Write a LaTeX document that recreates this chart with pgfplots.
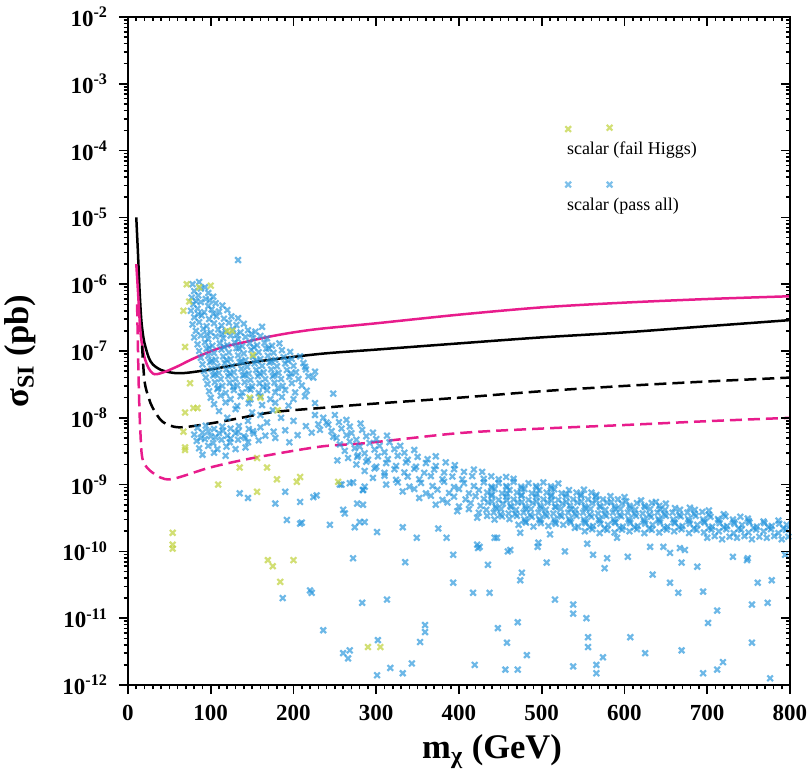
\documentclass[border=0pt]{standalone}
\usepackage{fontspec}
\setmainfont{Liberation Serif}
\usepackage{pgfplots}
\pgfplotsset{compat=1.18}
\definecolor{ptblue}{RGB}{40,150,220}
\definecolor{ptyellow}{RGB}{195,212,70}
\definecolor{lmag}{RGB}{232,28,140}

\begin{document}
\begin{tikzpicture}
\begin{axis}[scale only axis, width=331pt, height=334pt,
  xmin=0, xmax=800, ymin=1e-12, ymax=1e-2, ymode=log,
  xtick={0,100,...,800}, xticklabels={0,100,200,300,400,500,600,700,800},
  minor x tick num=9,
  ytick={1e-12,1e-11,1e-10,1e-9,1e-8,1e-7,1e-6,1e-5,1e-4,1e-3,1e-2},
  yticklabels={10\textsuperscript{-12},10\textsuperscript{-11},10\textsuperscript{-10},10\textsuperscript{-9},10\textsuperscript{-8},10\textsuperscript{-7},10\textsuperscript{-6},10\textsuperscript{-5},10\textsuperscript{-4},10\textsuperscript{-3},10\textsuperscript{-2}},
  xtick pos=left, ytick pos=left, tick align=outside,
  major tick length=4.5pt, minor tick length=2.2pt,
  axis line style={line width=1pt}, tick style={line width=0.8pt, black},
  tick label style={font=\fontsize{11.5}{13}\selectfont\bfseries},
  yticklabel style={xshift=-2pt}, xticklabel style={yshift=-2pt},
  xlabel={\LARGE\bfseries m\textsubscript{χ} (GeV)},
  ylabel={\LARGE\bfseries σ\textsubscript{SI} (pb)},
  xlabel style={at={(ticklabel cs:0.55)}, anchor=near ticklabel},
  ylabel style={yshift=6.5pt},
  clip=false]
\coordinate (sw) at (rel axis cs:0,0);

% scalar (pass all)
\addplot[only marks, mark=x, mark size=2pt, color=ptblue, mark options={line width=1.1pt, opacity=0.68}] coordinates {
(78,1e-6) (86,1.08e-6) (93,9e-7) (133,2.3e-6)
(80,7.9e-7) (88,8.6e-7) (97,7.4e-7)
(77,6.3e-7) (85,6.8e-7) (94,6e-7) (103,6.5e-7) (82,5.6e-7) (99,5.7e-7)
(79,5e-7) (88,5.4e-7) (97,4.7e-7) (106,5.2e-7) (114,4.8e-7)
(76,4e-7) (84,4.3e-7) (92,3.8e-7) (101,4.2e-7) (110,3.9e-7) (120,4.1e-7) (85,3.55e-7) (103,3.6e-7)
(80,3.2e-7) (89,3.4e-7) (98,3e-7) (107,3.3e-7) (116,3.05e-7) (125,3.3e-7) (133,3.1e-7)
(78,2.5e-7) (86,2.7e-7) (95,2.35e-7) (104,2.6e-7) (113,2.4e-7) (122,2.65e-7) (131,2.45e-7) (140,2.55e-7) (162,2.3e-7)
(82,2e-7) (91,2.15e-7) (100,1.9e-7) (109,2.1e-7) (118,1.95e-7) (127,2.1e-7) (136,1.9e-7) (145,2.05e-7) (154,1.95e-7)
(95,1.78e-7) (113,1.8e-7) (131,1.75e-7) (149,1.8e-7)
(80,1.6e-7) (88,1.7e-7) (97,1.5e-7) (106,1.65e-7) (115,1.55e-7) (124,1.7e-7) (133,1.5e-7) (142,1.62e-7) (151,1.55e-7) (160,1.68e-7) (168,1.55e-7)
(84,1.26e-7) (93,1.35e-7) (102,1.2e-7) (111,1.3e-7) (120,1.22e-7) (129,1.34e-7) (138,1.18e-7) (147,1.3e-7) (156,1.22e-7) (165,1.32e-7) (174,1.2e-7) (183,1.3e-7)
(98,1.12e-7) (116,1.15e-7) (134,1.1e-7) (152,1.14e-7) (170,1.1e-7)
(86,1e-7) (95,1.08e-7) (104,9.3e-8) (113,1.05e-7) (122,9.5e-8) (131,1.1e-7) (140,9.2e-8) (149,1.04e-7) (158,9.6e-8) (167,1.08e-7) (176,9.4e-8) (186,1.03e-7) (196,9.7e-8)
(88,7.9e-8) (97,8.5e-8) (106,7.4e-8) (115,8.3e-8) (124,7.6e-8) (133,8.6e-8) (142,7.3e-8) (151,8.2e-8) (160,7.6e-8) (169,8.5e-8) (178,7.4e-8) (188,8.1e-8) (198,7.6e-8) (208,8.3e-8)
(101,7.1e-8) (119,7.3e-8) (137,7e-8) (155,7.2e-8) (173,7e-8) (193,7.2e-8)
(90,6.3e-8) (99,6.8e-8) (108,5.9e-8) (117,6.6e-8) (126,6e-8) (135,6.8e-8) (144,5.8e-8) (153,6.5e-8) (162,6e-8) (171,6.7e-8) (180,5.9e-8) (190,6.5e-8) (200,6e-8) (212,6.6e-8) (214,5.8e-8)
(92,5e-8) (101,5.4e-8) (110,4.7e-8) (119,5.3e-8) (128,4.8e-8) (137,5.4e-8) (146,4.6e-8) (155,5.2e-8) (164,4.8e-8) (173,5.3e-8) (182,4.7e-8) (192,5.2e-8) (203,4.8e-8) (215,5.3e-8) (226,4.9e-8)
(105,4.5e-8) (123,4.6e-8) (141,4.4e-8) (159,4.6e-8) (177,4.4e-8) (197,4.6e-8)
(94,4e-8) (103,4.3e-8) (112,3.8e-8) (121,4.2e-8) (130,3.8e-8) (139,4.3e-8) (148,3.7e-8) (157,4.2e-8) (166,3.8e-8) (175,4.2e-8) (185,3.8e-8) (195,4.1e-8) (206,3.8e-8) (218,4.2e-8) (224,4e-8)
(96,3.2e-8) (105,3.4e-8) (114,3e-8) (123,3.35e-8) (132,3.05e-8) (141,3.4e-8) (150,2.95e-8) (159,3.3e-8) (168,3.05e-8) (177,3.35e-8) (187,3e-8) (198,3.3e-8) (210,3.05e-8)
(109,2.8e-8) (127,2.9e-8) (145,2.75e-8) (163,2.9e-8) (181,2.8e-8)
(98,2.5e-8) (108,2.7e-8) (118,2.35e-8) (128,2.6e-8) (138,2.4e-8) (148,2.65e-8) (158,2.35e-8) (168,2.6e-8) (178,2.4e-8) (190,2.6e-8) (202,2.4e-8) (216,2.55e-8) (248,2.3e-8)
(100,2e-8) (112,2.15e-8) (124,1.9e-8) (136,2.1e-8) (148,1.9e-8) (160,2.1e-8) (172,1.9e-8) (186,2.05e-8) (200,1.9e-8) (214,2.1e-8)
(104,1.6e-8) (118,1.7e-8) (132,1.5e-8) (146,1.65e-8) (162,1.55e-8) (178,1.68e-8) (194,1.52e-8) (226,1.66e-8)
(110,1.26e-8) (130,1.35e-8) (150,1.2e-8) (175,1.3e-8) (226,1.1e-8)
(84,7.1e-9) (94,7.6e-9) (104,6.8e-9) (114,7.4e-9) (124,6.9e-9) (134,7.5e-9) (146,6.8e-9) (160,7.2e-9)
(97,6.3e-9) (115,6.4e-9) (133,6.2e-9) (151,6.3e-9)
(80,5.6e-9) (90,6e-9) (100,5.3e-9) (110,5.9e-9) (120,5.4e-9) (130,5.9e-9) (140,5.3e-9) (152,5.8e-9) (166,5.4e-9)
(88,5e-9) (106,5.1e-9) (124,4.9e-9) (142,5e-9)
(83,4.5e-9) (93,4.8e-9) (103,4.2e-9) (113,4.7e-9) (123,4.3e-9) (133,4.7e-9) (145,4.3e-9) (158,4.6e-9)
(86,3.5e-9) (97,3.8e-9) (108,3.4e-9) (119,3.7e-9) (130,3.4e-9) (142,3.6e-9)
(90,2.8e-9) (104,3e-9) (118,2.7e-9)
(120,1e-8) (145,9e-9) (168,8.5e-9) (185,1e-8) (200,9e-9) (215,7.5e-9) (230,8e-9) (160,1.1e-8) (190,6.5e-9) (205,5.5e-9) (178,5e-9) (222,6e-9) (240,8.5e-9) (248,5.2e-9) (176,6.2e-9) (195,4.3e-9) (232,6.6e-9)
(236,1e-8) (250,1.1e-8) (264,9.3e-9)
(242,7.9e-9) (255,8.6e-9) (268,7.4e-9) (281,8.2e-9)
(246,6.3e-9) (258,6.9e-9) (270,5.9e-9) (283,6.6e-9) (296,6e-9)
(252,5e-9) (264,5.5e-9) (276,4.7e-9) (288,5.3e-9) (300,4.8e-9) (313,5.4e-9)
(256,4e-9) (268,4.4e-9) (280,3.7e-9) (292,4.2e-9) (304,3.8e-9) (316,4.3e-9) (329,3.8e-9)
(262,3.2e-9) (274,3.5e-9) (286,2.95e-9) (298,3.35e-9) (310,3.05e-9) (322,3.4e-9) (334,3e-9) (346,3.3e-9)
(266,2.5e-9) (278,2.75e-9) (290,2.35e-9) (302,2.65e-9) (314,2.4e-9) (326,2.7e-9) (338,2.35e-9) (350,2.6e-9) (362,2.4e-9) (372,2.65e-9)
(276,2e-9) (288,2.2e-9) (300,1.85e-9) (312,2.1e-9) (324,1.9e-9) (336,2.15e-9) (348,1.85e-9) (360,2.1e-9) (372,1.9e-9) (384,2.15e-9) (395,1.95e-9)
(286,1.6e-9) (298,1.75e-9) (310,1.5e-9) (322,1.7e-9) (334,1.52e-9) (346,1.72e-9) (358,1.5e-9) (370,1.68e-9) (382,1.52e-9) (394,1.7e-9) (406,1.55e-9) (418,1.68e-9) (428,1.55e-9)
(296,1.26e-9) (310,1.36e-9) (324,1.18e-9) (338,1.32e-9) (352,1.2e-9) (366,1.34e-9) (380,1.2e-9) (392,1.32e-9) (404,1.2e-9) (416,1.34e-9) (430,1.22e-9) (439,1.33e-9) (448,1.2e-9) (457,1.3e-9) (466,1.22e-9)
(258,1e-9) (272,1.08e-9) (286,9.3e-10) (312,1e-9) (326,1.08e-9) (340,9.3e-10) (354,1.06e-9) (368,9.5e-10) (382,1.1e-9) (394,9.2e-10) (406,1.05e-9) (418,9.5e-10) (430,1.08e-9) (439,9.3e-10) (448,1.06e-9) (457,9.5e-10) (466,1.1e-9) (475,9.3e-10) (484,1.05e-9) (493,9.5e-10) (502,1.08e-9) (511,9.4e-10) (520,1.04e-9)
(440,8.9e-10) (458,9.1e-10) (476,8.7e-10) (494,9e-10) (512,8.8e-10)
(284,8.3e-10) (332,7.9e-10) (346,8.6e-10) (360,7.4e-10) (374,8.4e-10) (388,7.5e-10) (400,8.6e-10) (412,7.4e-10) (424,8.3e-10) (434,7.6e-10) (443,8.6e-10) (452,7.4e-10) (461,8.3e-10) (470,7.6e-10) (479,8.6e-10) (488,7.4e-10) (497,8.3e-10) (506,7.6e-10) (515,8.5e-10) (524,7.4e-10) (533,8.3e-10) (542,7.6e-10) (551,8.4e-10) (560,7.6e-10)
(440,7.1e-10) (458,7.3e-10) (476,7e-10) (494,7.2e-10) (512,7e-10) (530,7.2e-10) (548,7.1e-10) (566,7e-10)
(352,6.3e-10) (366,6.8e-10) (380,5.9e-10) (394,6.6e-10) (408,6e-10) (420,6.7e-10) (430,6.1e-10) (439,6.8e-10) (448,5.9e-10) (457,6.6e-10) (466,6e-10) (475,6.8e-10) (484,5.9e-10) (493,6.6e-10) (502,6e-10) (511,6.7e-10) (520,5.9e-10) (529,6.6e-10) (538,6e-10) (547,6.8e-10) (556,6e-10) (565,6.6e-10) (574,6e-10) (583,6.7e-10) (592,6e-10) (600,6.5e-10)
(440,5.6e-10) (458,5.8e-10) (476,5.5e-10) (494,5.6e-10) (512,5.8e-10) (530,5.5e-10) (548,5.6e-10) (566,5.8e-10) (584,5.5e-10) (602,5.6e-10) (620,5.8e-10) (638,5.5e-10)
(372,5e-10) (386,5.4e-10) (400,4.7e-10) (414,5.3e-10) (426,4.8e-10) (435,5.4e-10) (444,4.7e-10) (453,5.2e-10) (462,4.8e-10) (471,5.4e-10) (480,4.7e-10) (489,5.3e-10) (498,4.8e-10) (507,5.4e-10) (516,4.7e-10) (525,5.2e-10) (534,4.8e-10) (543,5.4e-10) (552,4.7e-10) (561,5.3e-10) (570,4.8e-10) (579,5.4e-10) (588,4.7e-10) (597,5.2e-10) (606,4.8e-10) (615,5.3e-10) (624,4.8e-10) (633,5.3e-10) (642,4.8e-10) (650,5.2e-10)
(445,4.45e-10) (463,4.6e-10) (481,4.35e-10) (499,4.5e-10) (517,4.6e-10) (535,4.35e-10) (553,4.45e-10) (571,4.6e-10) (589,4.35e-10) (607,4.5e-10) (625,4.6e-10) (643,4.35e-10) (661,4.45e-10) (679,4.5e-10)
(398,4e-10) (412,4.3e-10) (424,3.8e-10) (433,4.2e-10) (442,3.8e-10) (451,4.3e-10) (460,3.7e-10) (469,4.2e-10) (478,3.8e-10) (487,4.3e-10) (496,3.8e-10) (505,4.2e-10) (514,3.7e-10) (523,4.3e-10) (532,3.8e-10) (541,4.2e-10) (550,3.8e-10) (559,4.3e-10) (568,3.7e-10) (577,4.2e-10) (586,3.8e-10) (595,4.3e-10) (604,3.8e-10) (613,4.2e-10) (622,3.7e-10) (631,4.3e-10) (640,3.8e-10) (649,4.2e-10) (658,3.8e-10) (667,4.2e-10) (676,3.8e-10) (685,4.2e-10) (694,3.9e-10) (702,4.1e-10)
(450,3.55e-10) (468,3.65e-10) (486,3.5e-10) (504,3.6e-10) (522,3.5e-10) (540,3.65e-10) (558,3.55e-10) (576,3.6e-10) (594,3.5e-10) (612,3.65e-10) (630,3.55e-10) (648,3.6e-10) (666,3.5e-10) (684,3.65e-10) (702,3.55e-10) (720,3.6e-10)
(422,3.2e-10) (434,3.4e-10) (443,3e-10) (452,3.35e-10) (461,3.05e-10) (470,3.4e-10) (479,3e-10) (488,3.3e-10) (497,3.05e-10) (506,3.4e-10) (515,3e-10) (524,3.35e-10) (533,3.05e-10) (542,3.4e-10) (551,3e-10) (560,3.3e-10) (569,3.05e-10) (578,3.4e-10) (587,3e-10) (596,3.35e-10) (605,3.05e-10) (614,3.4e-10) (623,3e-10) (632,3.3e-10) (641,3.05e-10) (650,3.4e-10) (659,3e-10) (668,3.35e-10) (677,3.05e-10) (686,3.4e-10) (695,3e-10) (704,3.3e-10) (713,3.05e-10) (722,3.35e-10) (731,3e-10) (740,3.3e-10) (749,3.1e-10)
(480,2.8e-10) (498,2.9e-10) (516,2.75e-10) (534,2.85e-10) (552,2.8e-10) (570,2.9e-10) (588,2.75e-10) (606,2.85e-10) (624,2.8e-10) (642,2.9e-10) (660,2.75e-10) (678,2.85e-10) (696,2.8e-10) (714,2.9e-10) (732,2.75e-10) (750,2.85e-10) (768,2.8e-10) (786,2.9e-10)
(472,2.5e-10) (481,2.7e-10) (490,2.35e-10) (499,2.65e-10) (508,2.4e-10) (517,2.6e-10) (526,2.5e-10) (535,2.7e-10) (544,2.35e-10) (553,2.65e-10) (562,2.4e-10) (571,2.6e-10) (580,2.5e-10) (589,2.7e-10) (598,2.35e-10) (607,2.65e-10) (616,2.4e-10) (625,2.6e-10) (634,2.5e-10) (643,2.7e-10) (652,2.35e-10) (661,2.65e-10) (670,2.4e-10) (679,2.6e-10) (688,2.5e-10) (697,2.7e-10) (706,2.35e-10) (715,2.65e-10) (724,2.4e-10) (733,2.6e-10) (742,2.5e-10) (751,2.7e-10) (760,2.35e-10) (769,2.65e-10) (778,2.4e-10) (787,2.6e-10) (796,2.5e-10)
(540,2.25e-10) (558,2.3e-10) (576,2.2e-10) (594,2.25e-10) (612,2.3e-10) (630,2.2e-10) (648,2.25e-10) (666,2.3e-10) (684,2.2e-10) (702,2.25e-10) (720,2.3e-10) (738,2.2e-10) (756,2.25e-10) (774,2.3e-10) (792,2.2e-10)
(552,2e-10) (561,2.15e-10) (570,1.88e-10) (579,2.1e-10) (588,1.92e-10) (597,2.12e-10) (606,2e-10) (615,2.15e-10) (624,1.88e-10) (633,2.1e-10) (642,1.92e-10) (651,2.12e-10) (660,2e-10) (669,2.15e-10) (678,1.88e-10) (687,2.1e-10) (696,1.92e-10) (705,2.12e-10) (714,2e-10) (723,2.15e-10) (732,1.88e-10) (741,2.1e-10) (750,1.92e-10) (759,2.12e-10) (768,2e-10) (777,2.15e-10) (786,1.88e-10) (795,2.1e-10)
(700,1.6e-10) (709,1.7e-10) (718,1.52e-10) (727,1.66e-10) (736,1.6e-10) (745,1.7e-10) (754,1.52e-10) (763,1.66e-10) (772,1.6e-10) (781,1.7e-10) (790,1.52e-10) (798,1.66e-10)
(135,7.4e-10) (145,6.3e-10) (178,5.2e-10) (190,7.8e-10) (192,2.95e-10) (208,2.6e-10) (208,5.5e-10) (228,6.9e-10) (244,2.5e-10) (260,4.2e-10) (280,2.75e-10) (301,1.95e-10) (332,2.3e-10) (349,1.6e-10) (385,1.6e-10) (425,1.17e-10) (210,2.7e-10) (224,6.5e-10) (277,5.2e-10)
(274,2.3e-10) (375,2.2e-10) (422,1.26e-10) (446,1.6e-10) (474,1.9e-10) (496,1.35e-10) (262,3.7e-10) (286,2.75e-10) (284,5e-10) (268,1.05e-9) (256,1e-9) (284,8.3e-10) (253,2.3e-9) (277,2.6e-9)
(272,7.9e-11) (335,6.9e-11) (393,3.4e-11) (187,2e-11) (220,2.6e-11) (222,2.4e-11) (283,1.7e-11) (313,1.9e-11) (236,6.6e-12) (260,3e-12) (268,3.3e-12) (266,2.5e-12) (302,4.7e-12) (317,1.8e-12) (301,1.4e-12) (332,1.5e-12) (343,2.1e-12) (359,7.9e-12) (359,6.2e-12) (353,4.4e-12)
(393,8.9e-11) (423,1.12e-10) (459,1e-10) (495,1.17e-10) (528,1e-10) (562,8.9e-11) (579,7.9e-11) (604,8.3e-11) (631,1.17e-10) (655,9.5e-11) (673,1.05e-10) (731,8.3e-11) (749,7.9e-11)
(435,6.3e-11) (506,6.8e-11) (576,5.6e-11) (669,6.8e-11) (688,5.9e-11) (417,2.4e-11) (437,2.4e-11) (476,4.8e-11) (474,3.7e-11) (634,4.5e-11) (655,3.4e-11) (665,2.4e-11) (695,2.5e-11) (761,3.4e-11) (778,3.7e-11)
(516,1.9e-11) (538,1.6e-11) (538,1.17e-11) (554,1e-11) (447,7.1e-12) (471,8.7e-12) (712,1.3e-11) (754,1.6e-11) (773,1.7e-11) (701,8.5e-12)
(458,4.3e-12) (556,5.2e-12) (556,3.7e-12) (607,5.2e-12) (625,3e-12) (669,3.3e-12) (754,4.3e-12) (482,2.8e-12) (419,2e-12) (456,1.7e-12) (471,1.7e-12) (538,1.9e-12) (566,2e-12) (566,1.5e-12) (574,2.6e-12) (695,1.5e-12) (712,1.7e-12) (719,2.2e-12) (776,1.26e-12)
(462,1.05e-10) (555,1.3e-10) (591,1.6e-10) (647,1.17e-10) (667,1.12e-10) (748,7.4e-11) (443,1.6e-10) (510,1.8e-10) (794,8.9e-11)
};

% scalar (fail Higgs)
\addplot[only marks, mark=x, mark size=2pt, color=ptyellow, mark options={line width=1.1pt, opacity=0.75}] coordinates {
(71,1e-6) (86,9e-7) (100,9.5e-7) (67,4e-7) (74,5.5e-7) (126,2e-7) (120,2e-7) (69,1.15e-7) (75,3.3e-8)
(79,1.4e-8) (69,1.2e-8) (84,1.4e-8) (69,3.3e-9) (67,6.2e-9) (69,3.6e-9) (181,1.3e-8) (160,2e-8) (147,2e-8) (151,8.7e-8)
(109,1e-9) (180,1.2e-9) (135,1.8e-9) (208,1.3e-9) (156,2.5e-9) (204,1.1e-9) (168,1.8e-9) (254,1.1e-9) (156,7.8e-10)
(54,1.9e-10) (54,1.26e-10) (54,1.1e-10) (169,7.4e-11) (175,6e-11) (200,7.4e-11) (184,3.5e-11) (290,3.7e-12) (305,3.7e-12)
};

% limit curves
\addplot[black, line width=1.25pt, smooth] coordinates {
(10,1e-5) (12,3e-6) (14,8e-7) (16,3e-7) (18,1.8e-7) (20,1.3e-7) (25,8e-8) (30,6.3e-8) (40,5.2e-8) (55,4.7e-8) (70,4.7e-8) (100,5.3e-8) (150,6.8e-8) (230,9e-8) (300,1.05e-7) (400,1.3e-7) (500,1.6e-7) (600,1.9e-7) (700,2.35e-7) (800,2.9e-7)};
\addplot[lmag, line width=1.25pt, smooth] coordinates {
(10,2e-6) (12,8e-7) (14,3e-7) (16,1.5e-7) (20,8e-8) (25,5.5e-8) (30,4.6e-8) (35,4.5e-8) (45,4.9e-8) (60,5.9e-8) (80,7.8e-8) (110,1.1e-7) (140,1.35e-7) (172,1.65e-7) (200,1.9e-7) (232,2.15e-7) (300,2.6e-7) (400,3.5e-7) (500,4.5e-7) (600,5.3e-7) (700,6e-7) (800,6.6e-7)};
\addplot[black, line width=1.25pt, dash pattern=on 6pt off 3pt, smooth] coordinates {
(17,1.2e-7) (20,3.5e-8) (25,2e-8) (30,1.4e-8) (42,8.7e-9) (63,7.2e-9) (111,8.7e-9) (172,1.2e-8) (232,1.4e-8) (289,1.6e-8) (400,2e-8) (500,2.5e-8) (600,3e-8) (700,3.5e-8) (800,4e-8)};
\addplot[lmag, line width=1.25pt, dash pattern=on 6pt off 3pt, smooth] coordinates {
(11,5e-7) (13,3e-8) (15,6e-9) (18,2.3e-9) (30,1.5e-9) (51,1.2e-9) (99,1.8e-9) (151,2.5e-9) (232,3.7e-9) (289,4.2e-9) (400,5.9e-9) (500,6.9e-9) (600,7.8e-9) (700,8.9e-9) (800,1e-8)};

% legend
\addplot[only marks, mark=x, mark size=2pt, color=ptyellow, mark options={line width=1.1pt, opacity=0.75}] coordinates {(532,2.1e-4) (582,2.2e-4)};
\addplot[only marks, mark=x, mark size=2pt, color=ptblue, mark options={line width=1.1pt, opacity=0.6}] coordinates {(532,3.1e-5) (582,3.1e-5)};
\node[anchor=west, font=\fontsize{9}{11}\selectfont] at (axis cs:522,1e-4) {scalar (fail Higgs)};
\node[anchor=west, font=\fontsize{9}{11}\selectfont] at (axis cs:522,1.45e-5) {scalar (pass all)};
\end{axis}
\begin{axis}[scale only axis, width=331pt, height=334pt,
  xmin=0, xmax=800, ymin=1e-12, ymax=1e-2, ymode=log,
  xtick={0,100,...,800}, minor x tick num=9,
  ytick={1e-12,1e-11,1e-10,1e-9,1e-8,1e-7,1e-6,1e-5,1e-4,1e-3,1e-2},
  xticklabels={}, yticklabels={},
  xtick pos=right, ytick pos=right, tick align=inside,
  major tick length=4.5pt, minor tick length=2.2pt,
  axis line style={line width=1pt}, tick style={line width=0.8pt, black}]
\end{axis}
\pgfresetboundingbox
\path (sw) ++(-64pt,-45.5pt) rectangle ++(405pt,388pt);
\end{tikzpicture}
\end{document}
